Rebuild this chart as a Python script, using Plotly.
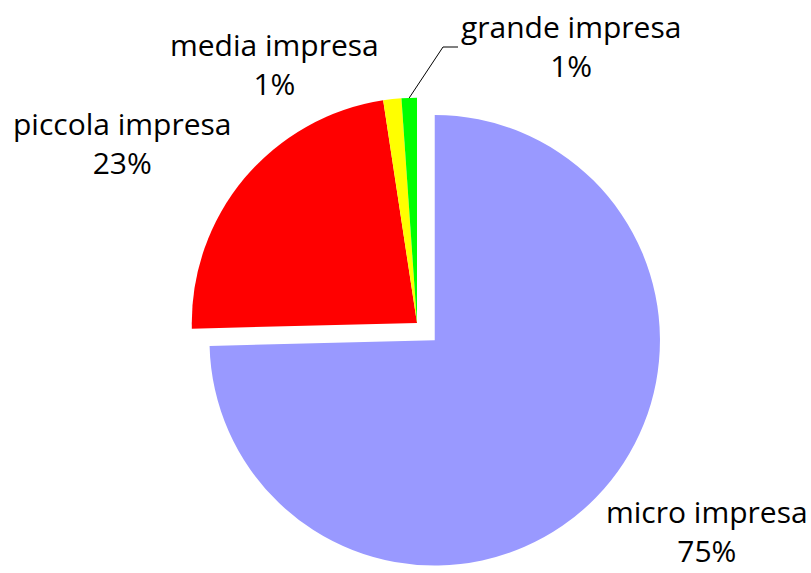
import math
import plotly.graph_objects as go

# Company size distribution (share of firms)
categories = ["micro impresa", "piccola impresa", "media impresa", "grande impresa"]
shares = [74.6, 23.0, 1.3, 1.1]
colors = ["#9999FF", "#FF0000", "#FFFF00", "#00FF00"]
pulls = [0.11, 0, 0, 0]

W, H = 811, 573
M = dict(l=67, r=44, t=73, b=0)
PW, PH = W - M["l"] - M["r"], H - M["t"] - M["b"]
FONT = dict(family="Open Sans", size=30, color="black")

total = sum(shares)
pct = [round(100 * v / total) for v in shares]


def to_paper(px, py):
    return (px - M["l"]) / PW, 1 - (py - M["t"]) / PH


fig = go.Figure(
    go.Pie(
        labels=categories,
        values=shares,
        marker=dict(colors=colors, line=dict(width=0)),
        pull=pulls,
        sort=False,
        direction="clockwise",
        rotation=0,
        textinfo="none",
        hoverinfo="label+percent",
        showlegend=False,
    )
)

# label block centres (pixels) for each category
label_pos = {
    "micro impresa": (707, 531),
    "piccola impresa": (122, 143),
    "media impresa": (274, 64),
    "grande impresa": (571, 46),
}
for name, p in zip(categories, pct):
    x, y = to_paper(*label_pos[name])
    fig.add_annotation(
        x=x, y=y, xref="paper", yref="paper",
        text=f"{name}<br>{p}%", showarrow=False,
        font=FONT, align="center", xanchor="center", yanchor="middle",
    )

# leader line from the "grande impresa" slice to its label
cx, cy = M["l"] + PW / 2, M["t"] + PH / 2
radius = min(PW, PH) / (2 + 2 * max(pulls))
before = sum(shares[:3]) / total
mid = 2 * math.pi * (before + shares[3] / total / 2)
sx, sy = cx + radius * math.sin(mid), cy - radius * math.cos(mid)
pts = [(sx, sy), (443, 47), (458, 47)]
for (x0, y0), (x1, y1) in zip(pts[:-1], pts[1:]):
    a0, b0 = to_paper(x0, y0)
    a1, b1 = to_paper(x1, y1)
    fig.add_shape(type="line", xref="paper", yref="paper",
                  x0=a0, y0=b0, x1=a1, y1=b1,
                  line=dict(color="black", width=1))

fig.update_layout(
    width=W, height=H, margin=M,
    paper_bgcolor="white", plot_bgcolor="white",
    font=FONT,
)
fig.write_html("out.html")
